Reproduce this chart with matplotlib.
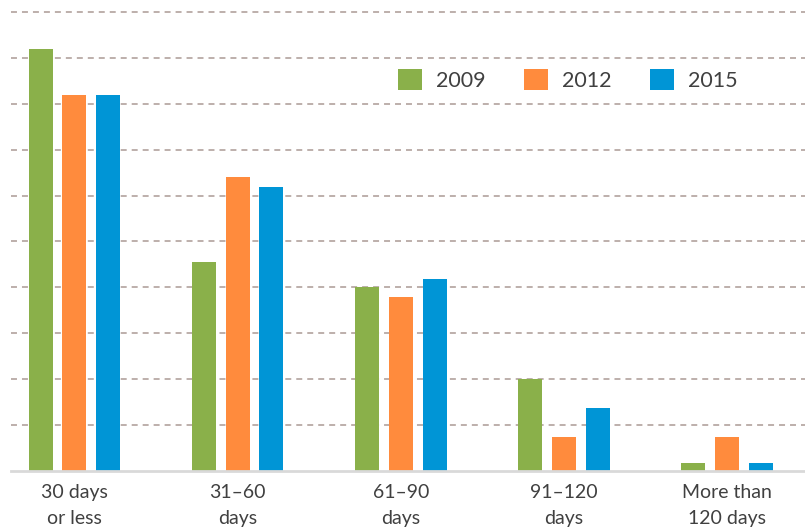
import numpy as np
import matplotlib
matplotlib.use("Agg")
import matplotlib.pyplot as plt

# ------------------------------------ chart data (percent of total)

categories = ["30 days\nor less", "31\u201360\ndays", "61\u201390\ndays",
              "91\u2013120\ndays", "More than\n120 days"]
years = ["2009", "2012", "2015"]

share_2009 = [46.0, 22.8, 20.0, 10.0, 0.9]
share_2012 = [41.0, 32.0, 19.0, 3.7, 3.7]
share_2015 = [41.0, 30.9, 20.9, 6.9, 0.9]

colors = ["#8AB04A", "#FF8B3D", "#0095D6"]

# ------------------------------------ figure setup

plt.rcParams["font.family"] = ["Lato", "DejaVu Sans"]
plt.rcParams["lines.scale_dashes"] = False

W, H = 805, 527
fig = plt.figure(figsize=(W / 100, H / 100), dpi=100)

left_px, base_px, top_px = 11, 471, 2.8
ax = fig.add_axes([left_px / W, (H - base_px) / H,
                   (W - left_px) / W, (base_px - top_px) / H])

xpos = np.arange(len(categories))
width = 0.147
step = 0.207

series = [share_2009, share_2012, share_2015]
for k, (vals, lab, col) in enumerate(zip(series, years, colors)):
    ax.bar(xpos + (k - 1) * step, vals, width=width,
           color=col, label=lab, zorder=2)

ax.set_xlim(-0.3885, 4.477)
ax.set_ylim(0, 51)
ax.set_yticks(np.arange(5, 51, 5))
ax.yaxis.grid(True, color="#B8A9A5", linewidth=1.3,
              linestyle=(0, (4.3, 3.6)), zorder=1)
ax.set_axisbelow(True)

for side in ["left", "right", "top"]:
    ax.spines[side].set_visible(False)
ax.spines["bottom"].set_color("#D9D9D9")
ax.spines["bottom"].set_linewidth(2.0)
ax.spines["bottom"].set_zorder(3)

ax.tick_params(axis="y", left=False, labelleft=False)
ax.tick_params(axis="x", bottom=False, pad=6)
ax.set_xticks(xpos)
ax.set_xticklabels(categories, fontsize=14, color="#404040",
                   linespacing=1.6)

fig.legend(loc="center left", bbox_to_anchor=(398 / W, 1 - 80 / H),
           ncol=3, frameon=False, fontsize=15.5, labelcolor="#404040",
           handlelength=1.12, handleheight=1.12, handletextpad=0.65,
           columnspacing=1.77, borderpad=0, borderaxespad=0)

fig.savefig("out.png", dpi=100)
